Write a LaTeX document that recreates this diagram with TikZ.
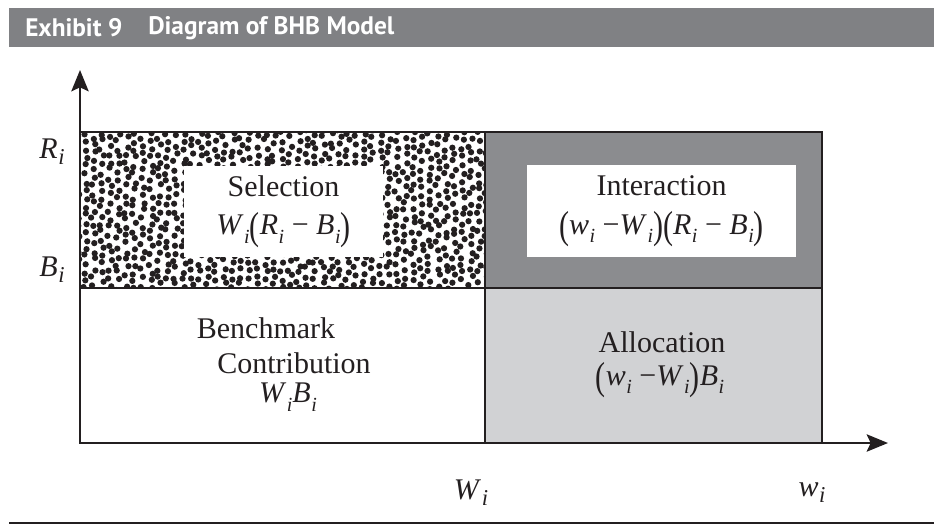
\documentclass[tikz,border=0pt]{standalone}
\usepackage{fontspec}
\usepackage{graphicx}
\setmainfont{Liberation Serif}
\newfontfamily\hdrfont{PT Sans}
\usetikzlibrary{arrows.meta}
\definecolor{barg}{HTML}{808184}
\definecolor{darkg}{HTML}{8B8C8F}
\definecolor{lightg}{HTML}{D1D2D4}
\definecolor{ink}{HTML}{231F20}
\newcommand\iv[2]{\textit{#1}\kern0.02em\raisebox{-0.28em}{\fontsize{15}{15}\selectfont\textit{#2}}}
\newcommand\lpar{\raisebox{-0.14em}{\scalebox{1}[1.3]{(}}}
\newcommand\rpar{\raisebox{-0.14em}{\scalebox{1}[1.3]{)}}}
\begin{document}
\begin{tikzpicture}[x=0.75pt,y=-0.75pt,
  lbl/.style={font=\fontsize{22.5}{26}\selectfont, text=ink, inner sep=0pt},
  hdr/.style={font=\hdrfont\bfseries\fontsize{19}{22}\selectfont, text=white, inner sep=0pt, anchor=west},
  axis/.style={draw=ink, line width=1.6pt, -{Stealth[length=16pt,width=13pt,inset=3pt]}},
  cell/.style={draw=ink, line width=1.1pt},
  wbox/.style={fill=white, inner sep=0pt, align=center, font=\fontsize{22.5}{29}\selectfont, text=ink}]
\useasboundingbox (0,0) rectangle (934,529);
% header
\fill[barg] (9,8) rectangle (934,47);
\node[hdr] (ex) at (25,28) {Exhibit 9};
\node[hdr] (ti) at (148,28) {Diagram of BHB Model};
% cells
\fill[darkg] (485,132) rectangle (822,288);
\fill[lightg] (485,288) rectangle (822,443);
\begin{scope}
  \clip (80,132) rectangle (485,288);
  \pgfmathsetseed{11}
  \foreach \i in {0,...,50}{
    \foreach \j in {0,...,20}{
      \pgfmathsetmacro\px{77+\i*8.2+2.4*rand}
      \pgfmathsetmacro\py{129+\j*8.2+2.4*rand+mod(\i,2)*4.1}
      \fill[ink] (\px,\py) circle[radius=2.35pt];
    }
  }
\end{scope}
\node[wbox, minimum width=149.25pt, minimum height=68.25pt] (sel) at (283.5,211.5)
  {Selection\\ \iv{W}{i}\lpar\iv{R}{i} − \iv{B}{i}\rpar};
\node[wbox, minimum width=201.75pt, minimum height=69pt] (int) at (661.5,211)
  {Interaction\\ \lpar\iv{w}{i} −\iv{W}{i}\rpar\lpar\iv{R}{i} − \iv{B}{i}\rpar};
% outlines
\coordinate (O) at (80,443);
\coordinate (TR) at (822,132);
\coordinate (mt) at (485,132);
\coordinate (mb) at (485,443);
\coordinate (ml) at (80,288);
\coordinate (mr) at (822,288);
\draw[cell] (O) rectangle (TR);
\draw[cell] (mt) -- (mb);
\draw[cell] (ml) -- (mr);
% axes
\coordinate (ytip) at (80,70);
\coordinate (xtip) at (888,443);
\draw[axis] (O) -- (ytip);
\draw[axis] (O) -- (xtip);
% texts
\node[lbl] (bm1) at (266,328) {Benchmark};
\node[lbl] (bm2) at (294,363) {Contribution};
\node[lbl] (bm3) at (288,397) {\iv{W}{i}\iv{B}{i}};
\node[lbl] (al1) at (662,342) {Allocation};
\node[lbl] (al2) at (660,380) {\lpar\iv{w}{i} −\iv{W}{i}\rpar\iv{B}{i}};
\node[lbl] (Rl) at (52,152) {\textit{R}\kern0.02em\raisebox{-0.2em}{\textit{\fontsize{17}{17}\selectfont i}}};
\node[lbl] (Bl) at (52,270) {\textit{B}\kern0.02em\raisebox{-0.2em}{\textit{\fontsize{17}{17}\selectfont i}}};
\node[lbl] (Wl) at (471,493) {\textit{W}\kern0.02em\raisebox{-0.2em}{\textit{\fontsize{17}{17}\selectfont i}}};
\node[lbl] (wl) at (812,493) {\textit{w}\kern0.02em\raisebox{-0.2em}{\textit{\fontsize{17}{17}\selectfont i}}};
% bottom rule
\coordinate (bl) at (9,523);
\coordinate (br) at (934,523);
\draw[ink, line width=2pt] (bl) -- (br);
\end{tikzpicture}
\end{document}
